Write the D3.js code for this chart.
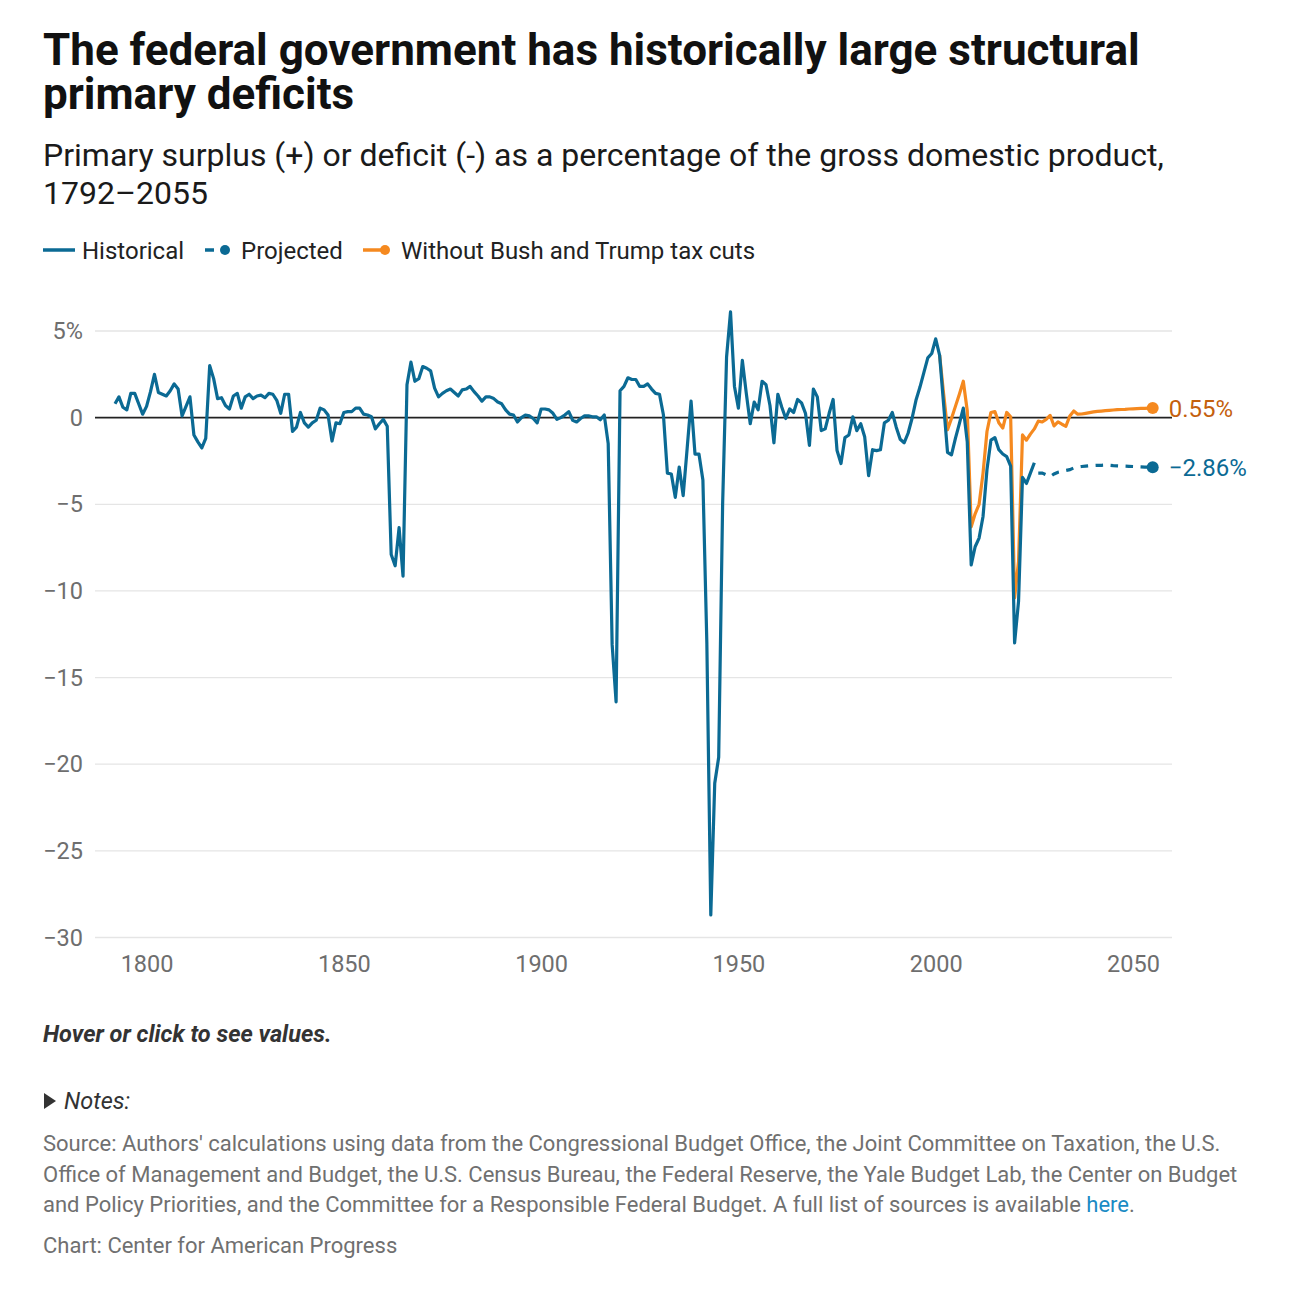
<!DOCTYPE html>
<html>
<head>
<meta charset="utf-8">
<script src="https://cdn.jsdelivr.net/npm/d3@7"></script>
<style>
  html, body { margin: 0; padding: 0; background: #fff; }
  svg { display: block; font-family: Roboto, "Noto Sans", sans-serif; }
</style>
</head>
<body>
<svg id="chart" width="1307" height="1292"></svg>
<script>
// ---------- DATA ----------
const histYears = d3.range(1792, 2026);
const histValues = [
  0.8, 1.2, 0.6, 0.45, 1.4, 1.4, 0.8, 0.2,                 // 1792-1799
  0.65, 1.5, 2.5, 1.45, 1.35, 1.25, 1.55, 1.95, 1.65, 0.1, // 1800-1809
  0.65, 1.2, -1.0, -1.4, -1.75, -1.2, 3.0, 2.25, 1.1, 1.15, // 1810-1819
  0.7, 0.5, 1.25, 1.4, 0.55, 1.2, 1.35, 1.1, 1.25, 1.3,    // 1820-1829
  1.15, 1.4, 1.35, 1.0, 0.25, 1.35, 1.35, -0.8, -0.55, 0.3, // 1830-1839
  -0.3, -0.55, -0.3, -0.15, 0.55, 0.45, 0.15, -1.35, -0.3, -0.35, // 1840-1849
  0.3, 0.35, 0.35, 0.55, 0.55, 0.2, 0.15, 0.05, -0.65, -0.35, // 1850-1859
  -0.1, -0.5, -7.9, -8.55, -6.35, -9.15, 1.9, 3.2, 2.1, 2.25, // 1860-1869
  2.95, 2.85, 2.7, 1.7, 1.2, 1.4, 1.55, 1.65, 1.45, 1.25,  // 1870-1879
  1.6, 1.65, 1.8, 1.5, 1.25, 0.95, 1.2, 1.2, 1.1, 0.9,     // 1880-1889
  0.8, 0.45, 0.2, 0.15, -0.25, 0.0, 0.15, 0.1, -0.05, -0.3, // 1890-1899
  0.5, 0.5, 0.45, 0.25, -0.1, 0.0, 0.15, 0.35, -0.15, -0.25, // 1900-1909
  -0.05, 0.1, 0.1, 0.05, 0.05, -0.12, 0.15, -1.5, -13.1, -16.4, // 1910-1919
  1.55, 1.8, 2.3, 2.2, 2.2, 1.8, 1.8, 1.95, 1.65, 1.4,     // 1920-1929
  1.35, 0.15, -3.2, -3.25, -4.6, -2.85, -4.5, -1.8, 0.95, -2.1, // 1930-1939
  -2.1, -3.6, -13.0, -28.7, -21.1, -19.6, -5.0, 3.5, 6.1, 1.8, // 1940-1949
  0.55, 3.3, 1.4, -0.35, 0.9, 0.45, 2.1, 1.9, 0.7, -1.45,  // 1950-1959
  1.35, 0.6, -0.05, 0.5, 0.3, 1.05, 0.85, 0.25, -1.6, 1.65, // 1960-1969
  1.2, -0.75, -0.65, 0.25, 1.05, -1.9, -2.65, -1.15, -1.0, 0.05, // 1970-1979
  -0.75, -0.35, -1.1, -3.35, -1.85, -1.9, -1.85, -0.3, -0.15, 0.3, // 1980-1989
  -0.55, -1.25, -1.45, -0.9, -0.05, 1.0, 1.75, 2.6, 3.45, 3.7, // 1990-1999
  4.55, 3.6, 0.8, -2.0, -2.15, -1.2, -0.35, 0.55, -1.4, -8.5, // 2000-2009
  -7.45, -6.95, -5.7, -3.0, -1.3, -1.15, -1.85, -2.1, -2.25, -2.8, // 2010-2019
  -13.0, -10.6, -3.45, -3.8, -3.2, -2.6                    // 2020-2025
];

const projYears = d3.range(2026, 2056);
const projValues = [
  -3.2, -3.2, -3.3, -3.4, -3.25, -3.15, -3.1, -3.05, -3.0, -2.9, // 2026-2035
  -2.85, -2.82, -2.8, -2.78, -2.76, -2.75, -2.75, -2.74, -2.75, -2.77, // 2036-2045
  -2.78, -2.79, -2.8, -2.81, -2.82, -2.83, -2.84, -2.85, -2.85, -2.86 // 2046-2055
];

const noCutYears = d3.range(2001, 2056);
const noCutValues = [
  3.6, 1.4, -0.7, -0.05, 0.65, 1.35, 2.1, 0.4, -6.3,        // 2001-2009
  -5.55, -5.0, -3.2, -0.8, 0.3, 0.35, -0.3, -0.6, 0.3, 0.05, // 2010-2019
  -10.4, -8.3, -1.0, -1.3, -0.95, -0.65, -0.2, -0.25, -0.1, 0.13, // 2020-2029
  -0.48, -0.25, -0.38, -0.5, 0.1, 0.38, 0.2, 0.21, 0.25, 0.29, // 2030-2039
  0.33, 0.36, 0.38, 0.4, 0.42, 0.44, 0.46, 0.47, 0.48, 0.5, // 2040-2049
  0.51, 0.52, 0.53, 0.54, 0.55, 0.55                       // 2050-2055
];

const yTicks = [5, 0, -5, -10, -15, -20, -25, -30];
const xTicks = [1800, 1850, 1900, 1950, 2000, 2050];

const titleLines = ["The federal government has historically large structural", "primary deficits"];
const subtitleLines = ["Primary surplus (+) or deficit (-) as a percentage of the gross domestic product,", "1792\u20132055"];
const legendLabels = ["Historical", "Projected", "Without Bush and Trump tax cuts"];
const sourceLines = [
  "Source: Authors' calculations using data from the Congressional Budget Office, the Joint Committee on Taxation, the U.S.",
  "Office of Management and Budget, the U.S. Census Bureau, the Federal Reserve, the Yale Budget Lab, the Center on Budget",
  "and Policy Priorities, and the Committee for a Responsible Federal Budget. A full list of sources is available "
];

// ---------- STYLE ----------
const BLUE = "#0b6a94";
const ORANGE = "#f5891f";
const ORANGE_TEXT = "#c4600d";
const GRID = "#e5e5e5";
const TICK = "#6e6e6e";

const svg = d3.select("#chart");

// ---------- TITLES ----------
const title = svg.append("text").attr("x", 43).attr("font-weight", 700)
  .attr("font-size", 44).attr("fill", "#111");
titleLines.forEach((t, i) => title.append("tspan").attr("x", 43).attr("y", 65 + i * 44).text(t));

const sub = svg.append("text").attr("font-size", 32).attr("fill", "#1a1a1a");
subtitleLines.forEach((t, i) => sub.append("tspan").attr("x", 43).attr("y", 166 + i * 38).text(t));

// ---------- LEGEND ----------
const lg = svg.append("g").attr("font-size", 24).attr("fill", "#222");
const ly = 250;
lg.append("line").attr("x1", 43).attr("x2", 75).attr("y1", ly).attr("y2", ly)
  .attr("stroke", BLUE).attr("stroke-width", 3.5);
lg.append("text").attr("x", 82).attr("y", ly + 8.5).text(legendLabels[0]);
lg.append("line").attr("x1", 205).attr("x2", 214).attr("y1", ly).attr("y2", ly)
  .attr("stroke", BLUE).attr("stroke-width", 3.5);
lg.append("circle").attr("cx", 225).attr("cy", ly).attr("r", 5).attr("fill", BLUE);
lg.append("text").attr("x", 241).attr("y", ly + 8.5).text(legendLabels[1]);
lg.append("line").attr("x1", 363).attr("x2", 385).attr("y1", ly).attr("y2", ly)
  .attr("stroke", ORANGE).attr("stroke-width", 3.5);
lg.append("circle").attr("cx", 385).attr("cy", ly).attr("r", 5).attr("fill", ORANGE);
lg.append("text").attr("x", 401).attr("y", ly + 8.5).text(legendLabels[2]);

// ---------- SCALES ----------
const x = d3.scaleLinear().domain([1792, 2055]).range([115, 1152.7]);
const y = d3.scaleLinear().domain([-30, 5]).range([937.5, 331]);
const plotLeft = 95, plotRight = 1172;

// grid
const gridG = svg.append("g");
yTicks.filter(v => v !== 0).forEach(v => {
  gridG.append("line").attr("x1", plotLeft).attr("x2", plotRight)
    .attr("y1", y(v)).attr("y2", y(v)).attr("stroke", GRID).attr("stroke-width", 1.3);
});

// y axis labels
const yAxis = d3.axisLeft(y).tickValues(yTicks).tickSize(0).tickPadding(0)
  .tickFormat(v => v === 5 ? "5%" : (v < 0 ? "\u2212" + Math.abs(v) : String(v)));
const yG = svg.append("g").attr("transform", "translate(83,0)").call(yAxis);
yG.select(".domain").remove();
yG.selectAll("text").attr("font-size", 23.5).attr("fill", TICK).attr("font-family", "Roboto, sans-serif");

// x axis labels
const xAxis = d3.axisBottom(x).tickValues(xTicks).tickSize(0).tickPadding(0).tickFormat(d3.format("d"));
const xG = svg.append("g").attr("transform", "translate(0,955)").call(xAxis);
xG.select(".domain").remove();
xG.selectAll("text").attr("font-size", 23.5).attr("fill", TICK).attr("font-family", "Roboto, sans-serif");

// zero line
svg.append("line").attr("x1", plotLeft).attr("x2", plotRight)
  .attr("y1", y(0)).attr("y2", y(0)).attr("stroke", "#222").attr("stroke-width", 1.6);

// ---------- LINES ----------
const line = d3.line().x(d => x(d[0])).y(d => y(d[1]));
const histData = histYears.map((yr, i) => [yr, histValues[i]]);
const projData = projYears.map((yr, i) => [yr, projValues[i]]);
const noCutData = noCutYears.map((yr, i) => [yr, noCutValues[i]]);

svg.append("path").datum(noCutData).attr("d", line).attr("fill", "none")
  .attr("stroke", ORANGE).attr("stroke-width", 3.2).attr("stroke-linejoin", "round");
svg.append("path").datum(projData).attr("d", line).attr("fill", "none")
  .attr("stroke", BLUE).attr("stroke-width", 3.2).attr("stroke-dasharray", "7.5,7.5");
svg.append("path").datum(histData).attr("d", line).attr("fill", "none")
  .attr("stroke", BLUE).attr("stroke-width", 3.2).attr("stroke-linejoin", "round");

// end dots + labels
const lastNo = noCutData[noCutData.length - 1];
const lastProj = projData[projData.length - 1];
svg.append("circle").attr("cx", x(lastNo[0])).attr("cy", y(lastNo[1])).attr("r", 6).attr("fill", ORANGE);
svg.append("circle").attr("cx", x(lastProj[0])).attr("cy", y(lastProj[1])).attr("r", 6).attr("fill", BLUE);
svg.append("text").attr("x", x(lastNo[0]) + 16).attr("y", y(lastNo[1]) + 8.5)
  .attr("font-size", 24).attr("fill", ORANGE_TEXT).text(lastNo[1].toFixed(2) + "%");
svg.append("text").attr("x", x(lastProj[0]) + 16).attr("y", y(lastProj[1]) + 8.5)
  .attr("font-size", 24).attr("fill", BLUE).text("\u2212" + Math.abs(lastProj[1]).toFixed(2) + "%");

// ---------- FOOTER ----------
svg.append("text").attr("x", 43).attr("y", 1042).attr("font-size", 23.5)
  .attr("font-weight", 700).attr("font-style", "italic").attr("fill", "#333")
  .text("Hover or click to see values.");

svg.append("path").attr("d", "M44,1093 L56,1101 L44,1109 Z").attr("fill", "#333");
svg.append("text").attr("x", 64).attr("y", 1109).attr("font-size", 23.5)
  .attr("font-style", "italic").attr("fill", "#333").text("Notes:");

const src = svg.append("g").attr("font-size", 22).attr("fill", "#707070");
sourceLines.forEach((t, i) => {
  const tx = src.append("text").attr("x", 43).attr("y", 1151 + i * 30.5);
  tx.append("tspan").text(t);
  if (i === sourceLines.length - 1) {
    tx.append("tspan").attr("fill", "#1a8bc4").text("here");
    tx.append("tspan").text(".");
  }
});
svg.append("text").attr("x", 43).attr("y", 1253).attr("font-size", 22)
  .attr("fill", "#707070").text("Chart: Center for American Progress");
</script>
</body>
</html>
